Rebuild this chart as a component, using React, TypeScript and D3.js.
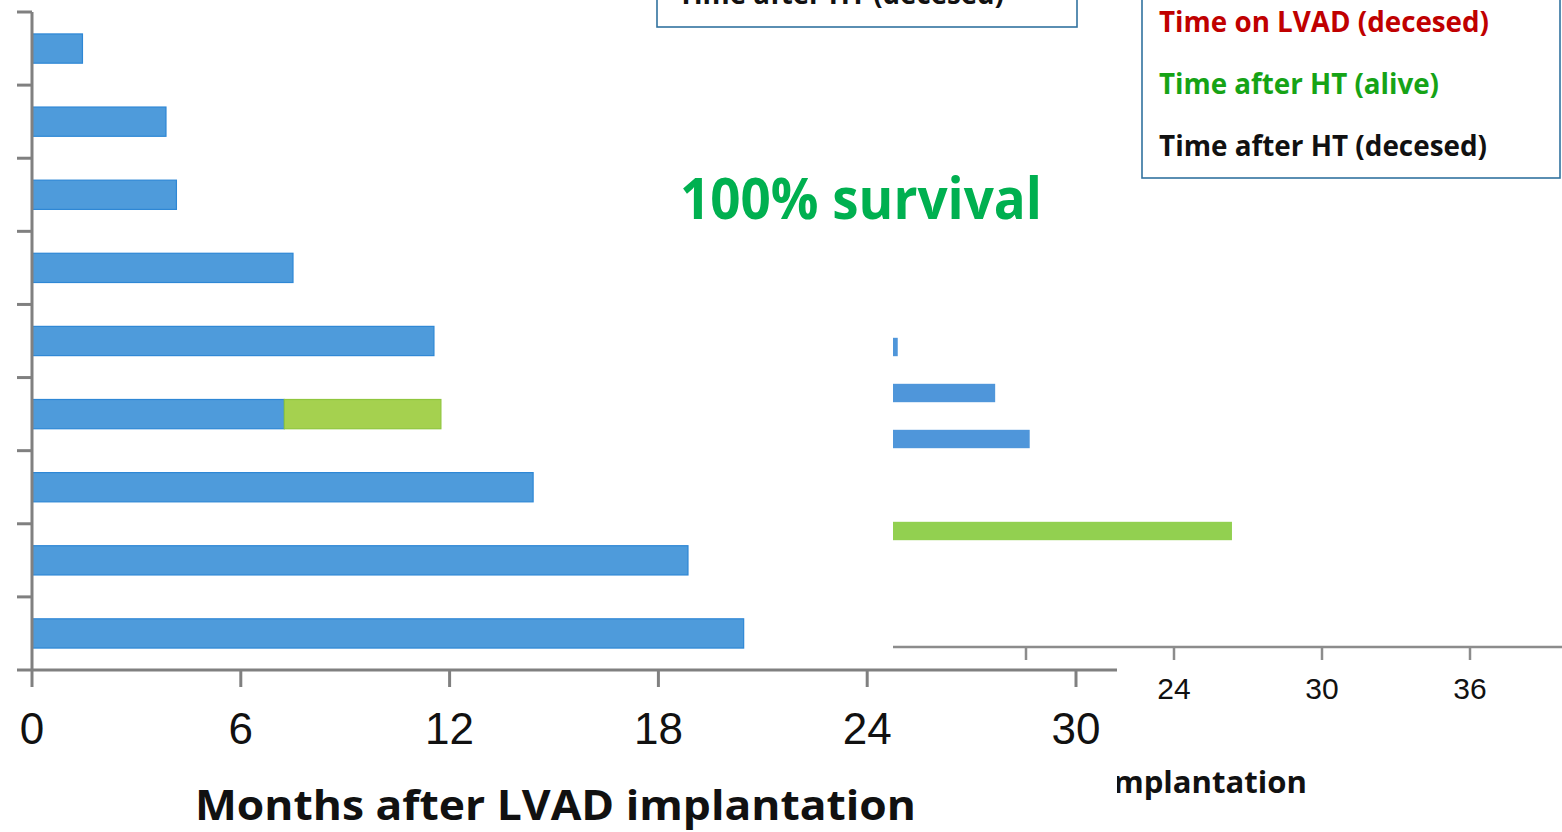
import React from "react";
import * as d3 from "d3";

// ---- Front chart (months after LVAD implantation) ----
const patients = ["P1", "P2", "P3", "P4", "P5", "P6", "P7", "P8", "P9"];
const lvadMonths = [1.45, 3.85, 4.15, 7.5, 11.55, 7.25, 14.4, 18.85, 20.45];
const htAliveMonths = [0, 0, 0, 0, 0, 4.5, 0, 0, 0];
const xTicks = [0, 6, 12, 18, 24, 30];

// ---- Background chart (partly covered) ----
const rows2 = ["R1", "R2", "R3", "R4", "R5", "R6", "R7"];
const lvad2 = [12.8, 16.75, 18.15, 0, 8, 0, 0];
const htAlive2 = [0, 0, 0, 0, 18.35, 0, 0];
const xTicks2 = [12, 18, 24, 30, 36];

const legendItems = ["Time on LVAD (decesed)", "Time after HT (alive)", "Time after HT (decesed)"];
const legendColors = ["#C00000", "#16A316", "#111111"];

const BLUE = "#4E9BDB";
const BLUE_EDGE = "#2E87D5";
const GREEN = "#A5D14F";
const GREEN_EDGE = "#90C63E";
const AXIS = "#808080";
const SANS = "'Open Sans', 'Noto Sans', sans-serif";
const ARIAL = "'Liberation Sans', Arial, sans-serif";

export default function App() {
  const W = 1562, H = 832;

  // front chart scales
  const x = d3.scaleLinear().domain([0, 30]).range([32, 1076]);
  const y = d3.scaleBand<string>().domain(patients).range([12, 670]).paddingInner(0.6).paddingOuter(0.3);
  const step = y.step();
  const yTickPos = d3.range(patients.length).map((i) => 12 + i * step);

  // background chart scales
  const x2 = d3.scaleLinear().domain([0, 36]).range([582, 1470]);
  const y2 = d3.scaleBand<string>().domain(rows2).range([324, 646]).paddingInner(0.6).paddingOuter(0.3);

  const clipPts = [[1100, 0], [1562, 0], [1562, 832], [1117, 832], [1117, 660], [893, 660], [893, 300], [1100, 300]];

  return (
    <svg width={W} height={H} style={{ position: "absolute", left: 0, top: 0, background: "#fff" }}>
      <defs>
        <clipPath id="bgclip">
          <polygon points={clipPts.map((p) => p.join(",")).join(" ")} />
        </clipPath>
      </defs>
      <rect x={0} y={0} width={W} height={H} fill="#fff" />

      {/* Background chart */}
      <g clipPath="url(#bgclip)">
        {rows2.map((r, i) => (
          <g key={r}>
            {lvad2[i] > 0 && (
              <rect x={x2(0)} y={y2(r)!} width={x2(lvad2[i]) - x2(0)} height={y2.bandwidth()} fill="#4F96DA" />
            )}
            {htAlive2[i] > 0 && (
              <rect x={x2(lvad2[i])} y={y2(r)!} width={x2(lvad2[i] + htAlive2[i]) - x2(lvad2[i])} height={y2.bandwidth()} fill="#92D050" />
            )}
          </g>
        ))}
        <line x1={x2(0)} x2={W} y1={647} y2={647} stroke="#8C8C8C" strokeWidth={2.5} />
        {xTicks2.map((t) => (
          <g key={t}>
            <line x1={x2(t)} x2={x2(t)} y1={647} y2={660} stroke="#8C8C8C" strokeWidth={2.5} />
            <text x={x2(t)} y={699} textAnchor="middle" fontFamily={ARIAL} fontSize={30} fill="#111">{t}</text>
          </g>
        ))}
        <text x={1307} y={793} textAnchor="end" fontFamily={SANS} fontWeight={700} fontSize={30}
          textLength={505} lengthAdjust="spacingAndGlyphs" fill="#111">Months after LVAD implantation</text>
        {/* legend */}
        <rect x={1142} y={-60} width={418} height={238} fill="#fff" stroke="#31729F" strokeWidth={1.6} />
        {legendItems.map((t, i) => (
          <text key={t} x={1159} y={32 + i * 62} fontFamily={SANS} fontWeight={700} fontSize={28}
            textLength={[330, 280, 328][i]} lengthAdjust="spacingAndGlyphs" fill={legendColors[i]}>{t}</text>
        ))}
      </g>

      {/* Front chart */}
      <rect x={657} y={-40} width={420} height={67} fill="#fff" stroke="#31729F" strokeWidth={1.6} />
      <text x={678} y={4} fontFamily={SANS} fontWeight={700} fontSize={28} textLength={326}
        lengthAdjust="spacingAndGlyphs" fill="#111">{legendItems[2]}</text>

      {patients.map((p, i) => (
        <g key={p}>
          <rect x={x(0)} y={y(p)!} width={x(lvadMonths[i]) - x(0)} height={y.bandwidth()}
            fill={BLUE} stroke={BLUE_EDGE} strokeWidth={1.2} />
          {htAliveMonths[i] > 0 && (
            <rect x={x(lvadMonths[i])} y={y(p)!} width={x(lvadMonths[i] + htAliveMonths[i]) - x(lvadMonths[i])}
              height={y.bandwidth()} fill={GREEN} stroke={GREEN_EDGE} strokeWidth={1.2} />
          )}
        </g>
      ))}

      {/* y axis */}
      <line x1={32} x2={32} y1={12} y2={670} stroke={AXIS} strokeWidth={3} />
      {yTickPos.map((ty, i) => (
        <line key={i} x1={17} x2={32} y1={ty} y2={ty} stroke={AXIS} strokeWidth={3} />
      ))}
      {/* x axis */}
      <line x1={17} x2={1117} y1={670} y2={670} stroke={AXIS} strokeWidth={3} />
      {xTicks.map((t) => (
        <g key={t}>
          <line x1={x(t)} x2={x(t)} y1={670} y2={687} stroke={AXIS} strokeWidth={3} />
          <text x={x(t)} y={744} textAnchor="middle" fontFamily={ARIAL} fontSize={44} fill="#111">{t}</text>
        </g>
      ))}
      <text x={195} y={820} fontFamily={SANS} fontWeight={700} fontSize={42} textLength={721}
        lengthAdjust="spacingAndGlyphs" fill="#111">Months after LVAD implantation</text>

      <text x={680} y={219} fontFamily={SANS} fontWeight={700} fontSize={58} textLength={362}
        lengthAdjust="spacingAndGlyphs" fill="#00B050">100% survival</text>
    </svg>
  );
}
